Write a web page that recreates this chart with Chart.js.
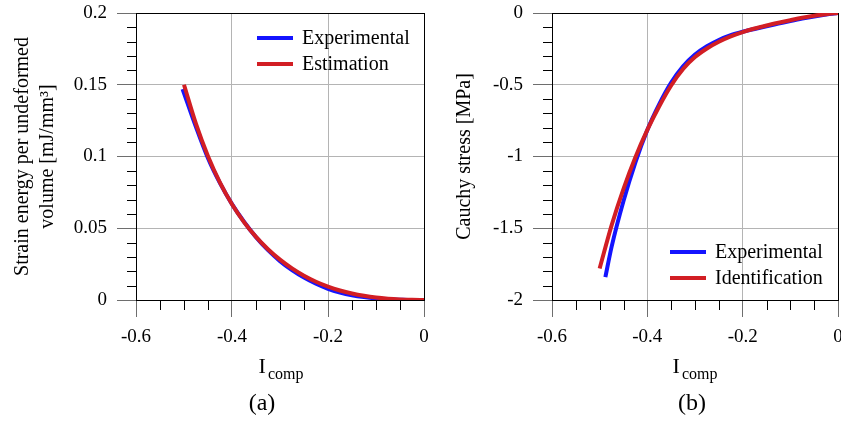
<!DOCTYPE html>
<html>
<head>
<meta charset="utf-8">
<script src="https://cdn.jsdelivr.net/npm/chart.js@4.4.1/dist/chart.umd.min.js"></script>
<style>
  html, body { margin: 0; padding: 0; background: #fff; overflow: hidden; }
  body { width: 841px; height: 426px; position: relative; font-family: "Liberation Serif", "Times New Roman", serif; }
  canvas { position: absolute; top: -20px; }
  .lbl { position: absolute; white-space: nowrap; transform: translateX(-50%); color: #000; line-height: 1; }
  .xt { font-size: 22px; top: 355px; }
  .xt span { font-size: 16px; vertical-align: -6px; margin-left: 2px; }
  .cap { font-size: 24px; top: 390px; }
</style>
</head>
<body>
<canvas id="chartA" width="440" height="446" style="left:0"></canvas>
<canvas id="chartB" width="440" height="446" style="left:420px"></canvas>
<div class="lbl xt" style="left:281px">I<span>comp</span></div>
<div class="lbl cap" style="left:262px">(a)</div>
<div class="lbl xt" style="left:695px">I<span>comp</span></div>
<div class="lbl cap" style="left:692px">(b)</div>
<script>
// ---- data ----
const seriesNames = ['Experimental', 'Estimation', 'Identification'];

// (a) strain energy per undeformed volume [mJ/mm3]
const energyExpX = [-0.503, -0.475, -0.45, -0.425, -0.4, -0.375, -0.35, -0.325, -0.3, -0.275, -0.25,
    -0.225, -0.2, -0.175, -0.15, -0.125, -0.1, -0.075, -0.05, -0.025, 0];
const energyExp = [0.147, 0.1205, 0.0988, 0.0814, 0.0668, 0.0545, 0.0438, 0.0347, 0.0271, 0.0208, 0.0156,
    0.0113, 0.0078, 0.0052, 0.0033, 0.0020, 0.0011, 0.0005, 0.0002, 0.0000, 0];
const energyEstX = [-0.5, -0.475, -0.45, -0.425, -0.4, -0.375, -0.35, -0.325, -0.3, -0.275, -0.25,
    -0.225, -0.2, -0.175, -0.15, -0.125, -0.1, -0.075, -0.05, -0.025, 0];
const energyEst = [0.1500, 0.1227, 0.1002, 0.0818, 0.0667, 0.0543, 0.0440, 0.0354, 0.0281, 0.0220, 0.0169,
    0.0127, 0.0093, 0.0066, 0.0045, 0.0029, 0.0017, 0.0009, 0.0004, 0.0001, 0];

// (b) Cauchy stress [MPa]
const stressExpX = [-0.488, -0.475, -0.45, -0.425, -0.4, -0.375, -0.35, -0.325, -0.3, -0.275,
    -0.25, -0.225, -0.2, -0.175, -0.15, -0.125, -0.1, -0.075, -0.05, -0.025, 0];
const stressExp = [-1.84, -1.63, -1.31, -1.04, -0.815, -0.635, -0.485, -0.372, -0.29, -0.232,
    -0.188, -0.155, -0.131, -0.111, -0.092, -0.074, -0.056, -0.039, -0.024, -0.011, 0];
const stressIdX = [-0.5, -0.475, -0.45, -0.425, -0.4, -0.375, -0.35, -0.325, -0.3, -0.275, -0.25,
    -0.225, -0.2, -0.175, -0.15, -0.125, -0.1, -0.075, -0.05, -0.025, 0];
const stressId = [-1.78, -1.48, -1.225, -1.005, -0.815, -0.65, -0.505, -0.39, -0.307, -0.247, -0.200,
    -0.163, -0.133, -0.108, -0.087, -0.068, -0.050, -0.033, -0.019, -0.008, 0];

const BLUE = '#1414ff';
const RED = '#d21e24';
const FONT = '"Liberation Serif", "Times New Roman", serif';

function points(xs, ys) {
    return xs.map((x, i) => ({x: x, y: ys[i]}));
}

function plainNumber(v) {
    return String(Math.round(v * 1000) / 1000);
}

// box round the plot area and the small black minor ticks
const frame = {
    id: 'frame',
    beforeDatasetsDraw(chart, args, opts) {
        const {ctx, chartArea: a, scales: {x, y}} = chart;
        ctx.save();
        ctx.strokeStyle = '#000';
        ctx.lineWidth = 1;
        ctx.beginPath();
        for (let i = 1; i < opts.xCount; i++) {
            if (i % opts.xEvery === 0) continue;
            const px = Math.round(x.getPixelForValue(x.min + i * opts.xStep)) + 0.5;
            ctx.moveTo(px, a.bottom);
            ctx.lineTo(px, a.bottom + 10);
        }
        for (let i = 1; i < opts.yCount; i++) {
            if (i % opts.yEvery === 0) continue;
            const py = Math.round(y.getPixelForValue(y.min + i * opts.yStep)) + 0.5;
            ctx.moveTo(a.left, py);
            ctx.lineTo(a.left - 9, py);
        }
        ctx.stroke();
        ctx.strokeRect(Math.round(a.left) + 0.5, Math.round(a.top) + 0.5,
            Math.round(a.right - a.left), Math.round(a.bottom - a.top));
        ctx.restore();
    }
};

// legend drawn inside the plot
const insideLegend = {
    id: 'insideLegend',
    afterDatasetsDraw(chart, args, opts) {
        const {ctx, chartArea: a} = chart;
        const x0 = a.right - opts.right;
        const y0 = opts.fromTop ? a.top + opts.y : a.bottom - opts.y;
        ctx.save();
        ctx.font = '20px ' + FONT;
        ctx.textBaseline = 'middle';
        ctx.fillStyle = '#000';
        chart.data.datasets.forEach((ds, i) => {
            const yy = y0 + i * 26;
            ctx.strokeStyle = ds.borderColor;
            ctx.lineWidth = 4;
            ctx.beginPath();
            ctx.moveTo(x0, yy);
            ctx.lineTo(x0 + 36, yy);
            ctx.stroke();
            ctx.fillText(ds.label, x0 + 45, yy + 1);
        });
        ctx.restore();
    }
};

function makeChart(id, cfg) {
    const tickFont = {family: FONT, size: 19};
    return new Chart(document.getElementById(id), {
        type: 'line',
        data: {
            datasets: [
                {label: seriesNames[0], data: cfg.exp, borderColor: BLUE, order: 2},
                {label: cfg.fitName, data: cfg.fit, borderColor: RED, order: 1}
            ].map(d => Object.assign(d, {
                borderWidth: 4, pointRadius: 0, fill: false,
                cubicInterpolationMode: 'monotone'
            }))
        },
        options: {
            responsive: false,
            animation: false,
            layout: {padding: {left: 0, top: 33, right: cfg.right, bottom: 66}},
            plugins: {
                legend: {display: false},
                tooltip: {enabled: false},
                frame: {xStep: 0.05, xEvery: 4, xCount: 12, yStep: cfg.yStep / 5, yEvery: 5, yCount: 20},
                insideLegend: cfg.legend
            },
            scales: {
                x: {
                    type: 'linear', min: -0.6, max: 0,
                    ticks: {stepSize: 0.2, font: tickFont, color: '#000', padding: 9, maxRotation: 0,
                        callback: plainNumber},
                    grid: {color: '#b4b4b4', tickColor: '#6e6e6e', tickLength: 17},
                    border: {color: '#000'},
                    afterFit(s) { s.height = 60; }
                },
                y: {
                    type: 'linear', min: cfg.yMin, max: cfg.yMax,
                    ticks: {stepSize: cfg.yStep, font: tickFont, color: '#000', padding: 10,
                        callback: plainNumber},
                    grid: {color: '#b4b4b4', tickColor: '#6e6e6e', tickLength: 19},
                    border: {color: '#000'},
                    title: {
                        display: true, text: cfg.yTitle, color: '#000',
                        font: {family: FONT, size: 20, lineHeight: 1.25},
                        padding: {top: cfg.titlePad, bottom: 0}
                    },
                    afterFit(s) { s.width = cfg.axisW; }
                }
            }
        },
        plugins: [frame, insideLegend]
    });
}

makeChart('chartA', {
    exp: points(energyExpX, energyExp),
    fit: points(energyEstX, energyEst),
    fitName: seriesNames[1],
    yMin: 0, yMax: 0.2, yStep: 0.05,
    yTitle: ['Strain energy per undeformed', 'volume [mJ/mm\u00b3]'],
    titlePad: 10, axisW: 136, right: 16,
    legend: {right: 167, y: 25, fromTop: true}
});

makeChart('chartB', {
    exp: points(stressExpX, stressExp),
    fit: points(stressIdX, stressId),
    fitName: seriesNames[2],
    yMin: -2, yMax: 0, yStep: 0.5,
    yTitle: 'Cauchy stress [MPa]',
    titlePad: 32, axisW: 132, right: 22,
    legend: {right: 168, y: 48, fromTop: false}
});
</script>
</body>
</html>
